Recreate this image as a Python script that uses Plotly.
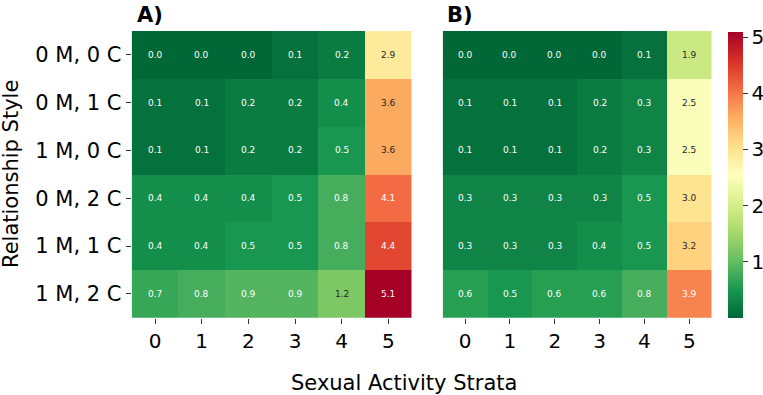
import plotly.graph_objects as go
import plotly.colors as pc

strata = ["0", "1", "2", "3", "4", "5"]
styles = ["0 M, 0 C", "0 M, 1 C", "1 M, 0 C", "0 M, 2 C", "1 M, 1 C", "1 M, 2 C"]

values_a = [
    [0.0, 0.0, 0.0, 0.1, 0.2, 2.9],
    [0.1, 0.1, 0.2, 0.2, 0.4, 3.6],
    [0.1, 0.1, 0.2, 0.2, 0.5, 3.6],
    [0.4, 0.4, 0.4, 0.5, 0.8, 4.1],
    [0.4, 0.4, 0.5, 0.5, 0.8, 4.4],
    [0.7, 0.8, 0.9, 0.9, 1.2, 5.1],
]
values_b = [
    [0.0, 0.0, 0.0, 0.0, 0.1, 1.9],
    [0.1, 0.1, 0.1, 0.2, 0.3, 2.5],
    [0.1, 0.1, 0.1, 0.2, 0.3, 2.5],
    [0.3, 0.3, 0.3, 0.3, 0.5, 3.0],
    [0.3, 0.3, 0.3, 0.4, 0.5, 3.2],
    [0.6, 0.5, 0.6, 0.6, 0.8, 3.9],
]
colorbar_ticks = [1, 2, 3, 4, 5]
ZMIN, ZMAX = 0.0, 5.1

rdylgn = ["rgb(0,104,55)", "rgb(26,152,80)", "rgb(102,189,99)", "rgb(166,217,106)",
          "rgb(217,239,139)", "rgb(255,255,191)", "rgb(254,224,139)", "rgb(253,174,97)",
          "rgb(244,109,67)", "rgb(215,48,39)", "rgb(165,0,38)"]
cscale = [[i / 10, c] for i, c in enumerate(rdylgn)]

FONT = "DejaVu Sans"
W, H = 763, 395


def px(x):
    return x / W


def py(y):
    return 1 - y / H


def lum(v):
    t = (v - ZMIN) / (ZMAX - ZMIN)
    t = min(max(t, 0), 1)
    col = pc.sample_colorscale(cscale, [t])[0]
    r, g, b = [float(x) / 255 for x in col[col.index("(") + 1:-1].split(",")]
    def lin(c):
        return c / 12.92 if c <= 0.03928 else ((c + 0.055) / 1.055) ** 2.4
    return 0.2126 * lin(r) + 0.7152 * lin(g) + 0.0722 * lin(b)


fig = go.Figure()
xd_a = [px(131.7), px(411.7)]
xd_b = [px(442.7), px(711.7)]
yd = [py(317.7), py(31)]

fig.add_trace(go.Heatmap(z=values_a, x=strata, y=styles, colorscale=cscale, zmin=ZMIN, zmax=ZMAX,
                         xaxis="x", yaxis="y", showscale=False, hoverinfo="skip"))
fig.add_trace(go.Heatmap(z=values_b, x=strata, y=styles, colorscale=cscale, zmin=ZMIN, zmax=ZMAX,
                         xaxis="x2", yaxis="y2", showscale=True, hoverinfo="skip",
                         colorbar=dict(x=px(728.3), xanchor="left", thickness=15,
                                       len=(317.7 - 31.5) / H, lenmode="fraction",
                                       y=py(317.7), yanchor="bottom",
                                       outlinewidth=0, tickvals=colorbar_ticks,
                                       ticks="outside", ticklen=5, tickcolor="#333",
                                       tickfont=dict(family=FONT, size=20, color="black"),
                                       xpad=0, ypad=0)))

annotations = []
for vals, xa, ya in [(values_a, "x", "y"), (values_b, "x2", "y2")]:
    for i, row in enumerate(vals):
        for j, v in enumerate(row):
            color = "#262626" if lum(v) > 0.408 else "white"
            annotations.append(dict(x=strata[j], y=styles[i], xref=xa, yref=ya, text=f"{v:.1f}",
                                    showarrow=False, font=dict(family=FONT, size=9, color=color)))

annotations += [
    dict(x=px(135), y=py(15.5), xref="paper", yref="paper", text="<b>A)</b>", showarrow=False,
         xanchor="left", yanchor="middle", font=dict(family=FONT, size=21, color="black")),
    dict(x=px(445), y=py(15.5), xref="paper", yref="paper", text="<b>B)</b>", showarrow=False,
         xanchor="left", yanchor="middle", font=dict(family=FONT, size=21, color="black")),
    dict(x=px(403.5), y=py(383), xref="paper", yref="paper", text="Sexual Activity Strata",
         showarrow=False, xanchor="center", yanchor="middle", font=dict(family=FONT, size=21, color="black")),
    dict(x=px(11), y=py(174), xref="paper", yref="paper", text="Relationship Style", textangle=-90,
         showarrow=False, xanchor="center", yanchor="middle", font=dict(family=FONT, size=21, color="black")),
]

axis_common = dict(ticks="outside", ticklen=5, tickcolor="#333", showgrid=False, zeroline=False,
                   showline=False, tickfont=dict(family=FONT, size=20, color="black"))

fig.update_layout(
    width=W, height=H, margin=dict(l=0, r=0, t=0, b=0, autoexpand=False),
    paper_bgcolor="white", plot_bgcolor="white",
    xaxis=dict(domain=xd_a, anchor="y", type="category", **axis_common),
    yaxis=dict(domain=yd, anchor="x", type="category", autorange="reversed",
               **{**axis_common, "tickfont": dict(family=FONT, size=21, color="black")}),
    xaxis2=dict(domain=xd_b, anchor="y2", type="category", **axis_common),
    yaxis2=dict(domain=yd, anchor="x2", type="category", autorange="reversed", showticklabels=False,
                ticks="", showgrid=False, zeroline=False, showline=False),
    annotations=annotations,
    font=dict(family=FONT),
)

fig.write_html("out.html", config={"displayModeBar": False},
               post_script="document.body.style.margin='0';")
